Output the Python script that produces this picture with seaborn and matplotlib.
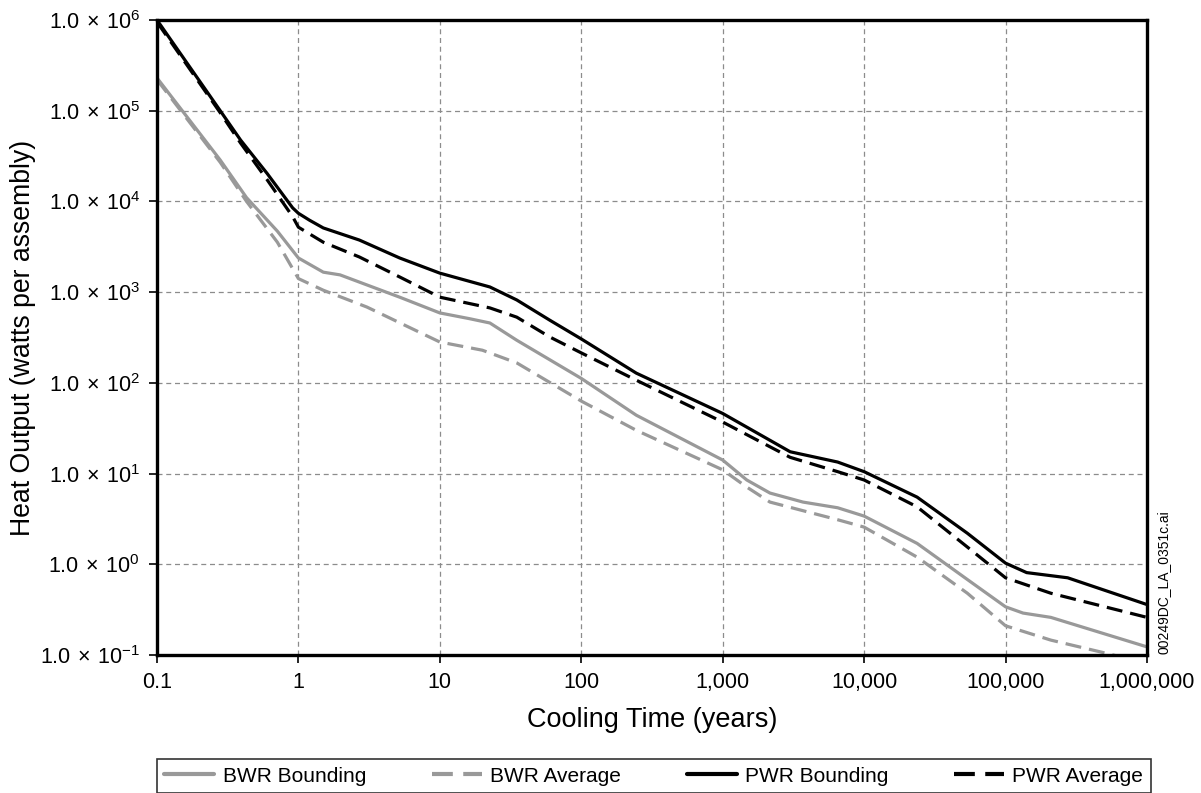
import matplotlib
matplotlib.use("Agg")
import matplotlib.pyplot as plt
import numpy as np
import pandas as pd
import seaborn as sns

# cooling time (years) and heat output (watts per assembly)
pwr_bound_t = [0.1, 0.28, 0.39, 0.6, 0.91, 1.0, 1.2, 1.5, 2.7, 5.2, 10, 22.6, 35, 60, 100, 245,
               1000, 3000, 6500, 10000, 23700, 53700, 100000, 141000, 275000, 1000000]
pwr_bound_q = [1.0e6, 1.0e5, 4.75e4, 2.04e4, 8500, 7400, 6200, 5100, 3750, 2380, 1620, 1140, 820, 490, 305, 128,
               46, 17.4, 13.4, 10.5, 5.5, 2.2, 1.03, 0.81, 0.71, 0.36]

pwr_avg_t = [0.1, 0.28, 0.39, 0.6, 0.91, 1.0, 1.5, 2.7, 5.2, 10, 22.6, 35, 60, 100, 245,
             1000, 3000, 6500, 10000, 23700, 53700, 100000, 209000, 1000000]
pwr_avg_q = [9.5e5, 9.5e4, 4.4e4, 1.74e4, 6800, 5200, 3550, 2440, 1470, 880, 670, 530, 320, 214, 107,
             37, 15.1, 10.5, 8.5, 4.3, 1.55, 0.71, 0.48, 0.26]

bwr_bound_t = [0.1, 0.28, 0.43, 0.71, 1.0, 1.5, 1.97, 5.2, 10, 16.2, 22.6, 35, 100, 245,
               1000, 1480, 2160, 3700, 6500, 10000, 23700, 53700, 100000, 133000, 209000, 1000000]
bwr_bound_q = [2.3e5, 2.86e4, 1.1e4, 4700, 2380, 1660, 1550, 880, 590, 510, 457, 295, 112, 44,
               14.1, 8.5, 6.1, 4.85, 4.2, 3.4, 1.7, 0.68, 0.34, 0.29, 0.26, 0.123]

bwr_avg_t = [0.1, 0.28, 0.43, 0.71, 1.0, 1.5, 3.05, 10, 20, 35, 100, 245,
             1000, 1480, 2160, 6500, 10000, 23700, 53700, 100000, 209000, 550000, 1000000]
bwr_avg_q = [2.2e5, 2.7e4, 1.0e4, 3550, 1410, 1050, 685, 282, 229, 166, 63, 30,
             11, 7.1, 4.85, 3.1, 2.57, 1.2, 0.48, 0.21, 0.146, 0.102, 0.08]

series_names = ["BWR Bounding", "BWR Average", "PWR Bounding", "PWR Average"]
x_ticks = [0.1, 1, 10, 100, 1000, 10000, 100000, 1000000]
x_labels = ["0.1", "1", "10", "100", "1,000", "10,000", "100,000", "1,000,000"]
y_exps = [-1, 0, 1, 2, 3, 4, 5, 6]

sns.set_theme(style="white")
plt.rcParams["font.family"] = ["Liberation Sans", "DejaVu Sans"]
plt.rcParams["mathtext.fontset"] = "custom"
plt.rcParams["mathtext.rm"] = "Liberation Sans"
plt.rcParams["text.color"] = "black"
plt.rcParams["axes.labelcolor"] = "black"
plt.rcParams["xtick.color"] = "black"
plt.rcParams["ytick.color"] = "black"

frames = []
for name, t, q in zip(series_names,
                      [bwr_bound_t, bwr_avg_t, pwr_bound_t, pwr_avg_t],
                      [bwr_bound_q, bwr_avg_q, pwr_bound_q, pwr_avg_q]):
    frames.append(pd.DataFrame({"time": t, "heat": q, "series": name}))
df = pd.concat(frames, ignore_index=True)

fig = plt.figure(figsize=(12.01, 7.93), dpi=100)
ax = fig.add_axes([0.1307, 0.174, 0.955 - 0.1307, 0.9748 - 0.174])

gray = "#999999"
sns.lineplot(data=df, x="time", y="heat", hue="series", style="series",
             hue_order=series_names, style_order=series_names,
             palette={"BWR Bounding": gray, "BWR Average": gray,
                      "PWR Bounding": "black", "PWR Average": "black"},
             dashes={"BWR Bounding": "", "BWR Average": (5, 2.5),
                     "PWR Bounding": "", "PWR Average": (5, 2.5)},
             sort=False, estimator=None, linewidth=2.3, ax=ax, legend=True)

ax.set_xscale("log")
ax.set_yscale("log")
ax.set_xlim(0.1, 1e6)
ax.set_ylim(0.1, 1e6)
ax.set_xticks(x_ticks)
ax.set_xticklabels(x_labels, fontsize=15.5)
ax.set_yticks([10.0 ** e for e in y_exps])
ax.set_yticklabels([r"$\mathregular{1.0\,\times\,10^{%d}}$" % e for e in y_exps], fontsize=15.5)
ax.minorticks_off()
ax.tick_params(axis="both", which="major", direction="out", length=6, width=1.2,
               color="black", labelcolor="black", pad=6, left=True, bottom=True)
ax.grid(True, which="major", color="#8c8c8c", linestyle=(0, (4, 3)), linewidth=0.9)
for sp in ax.spines.values():
    sp.set_color("black")
    sp.set_linewidth(2.4)

ax.set_xlabel("Cooling Time (years)", fontsize=19.5, labelpad=10, color="black")
ax.set_ylabel("Heat Output (watts per assembly)", fontsize=19.2, color="black")
ax.yaxis.set_label_coords(-0.122, 0.5)

handles, labels = ax.get_legend_handles_labels()
ax.get_legend().remove()
leg = fig.legend(handles, labels, loc="lower left", ncol=4, mode="expand",
                 bbox_to_anchor=(0.1307, 0.0, 0.955 - 0.1307 + 0.003, 0.046),
                 borderaxespad=0, fancybox=False, frameon=True, edgecolor="black",
                 fontsize=15, handlelength=2.4, handletextpad=0.4, borderpad=0.35)
leg.get_frame().set_linewidth(1.2)
for line in leg.get_lines():
    line.set_linewidth(3)
for txt in leg.get_texts():
    txt.set_color("black")

fig.text(0.9685, 0.175, "00249DC_LA_0351c.ai", rotation=90, fontsize=10,
         ha="center", va="bottom", color="black")

fig.savefig("out.png", dpi=100, facecolor="white")
